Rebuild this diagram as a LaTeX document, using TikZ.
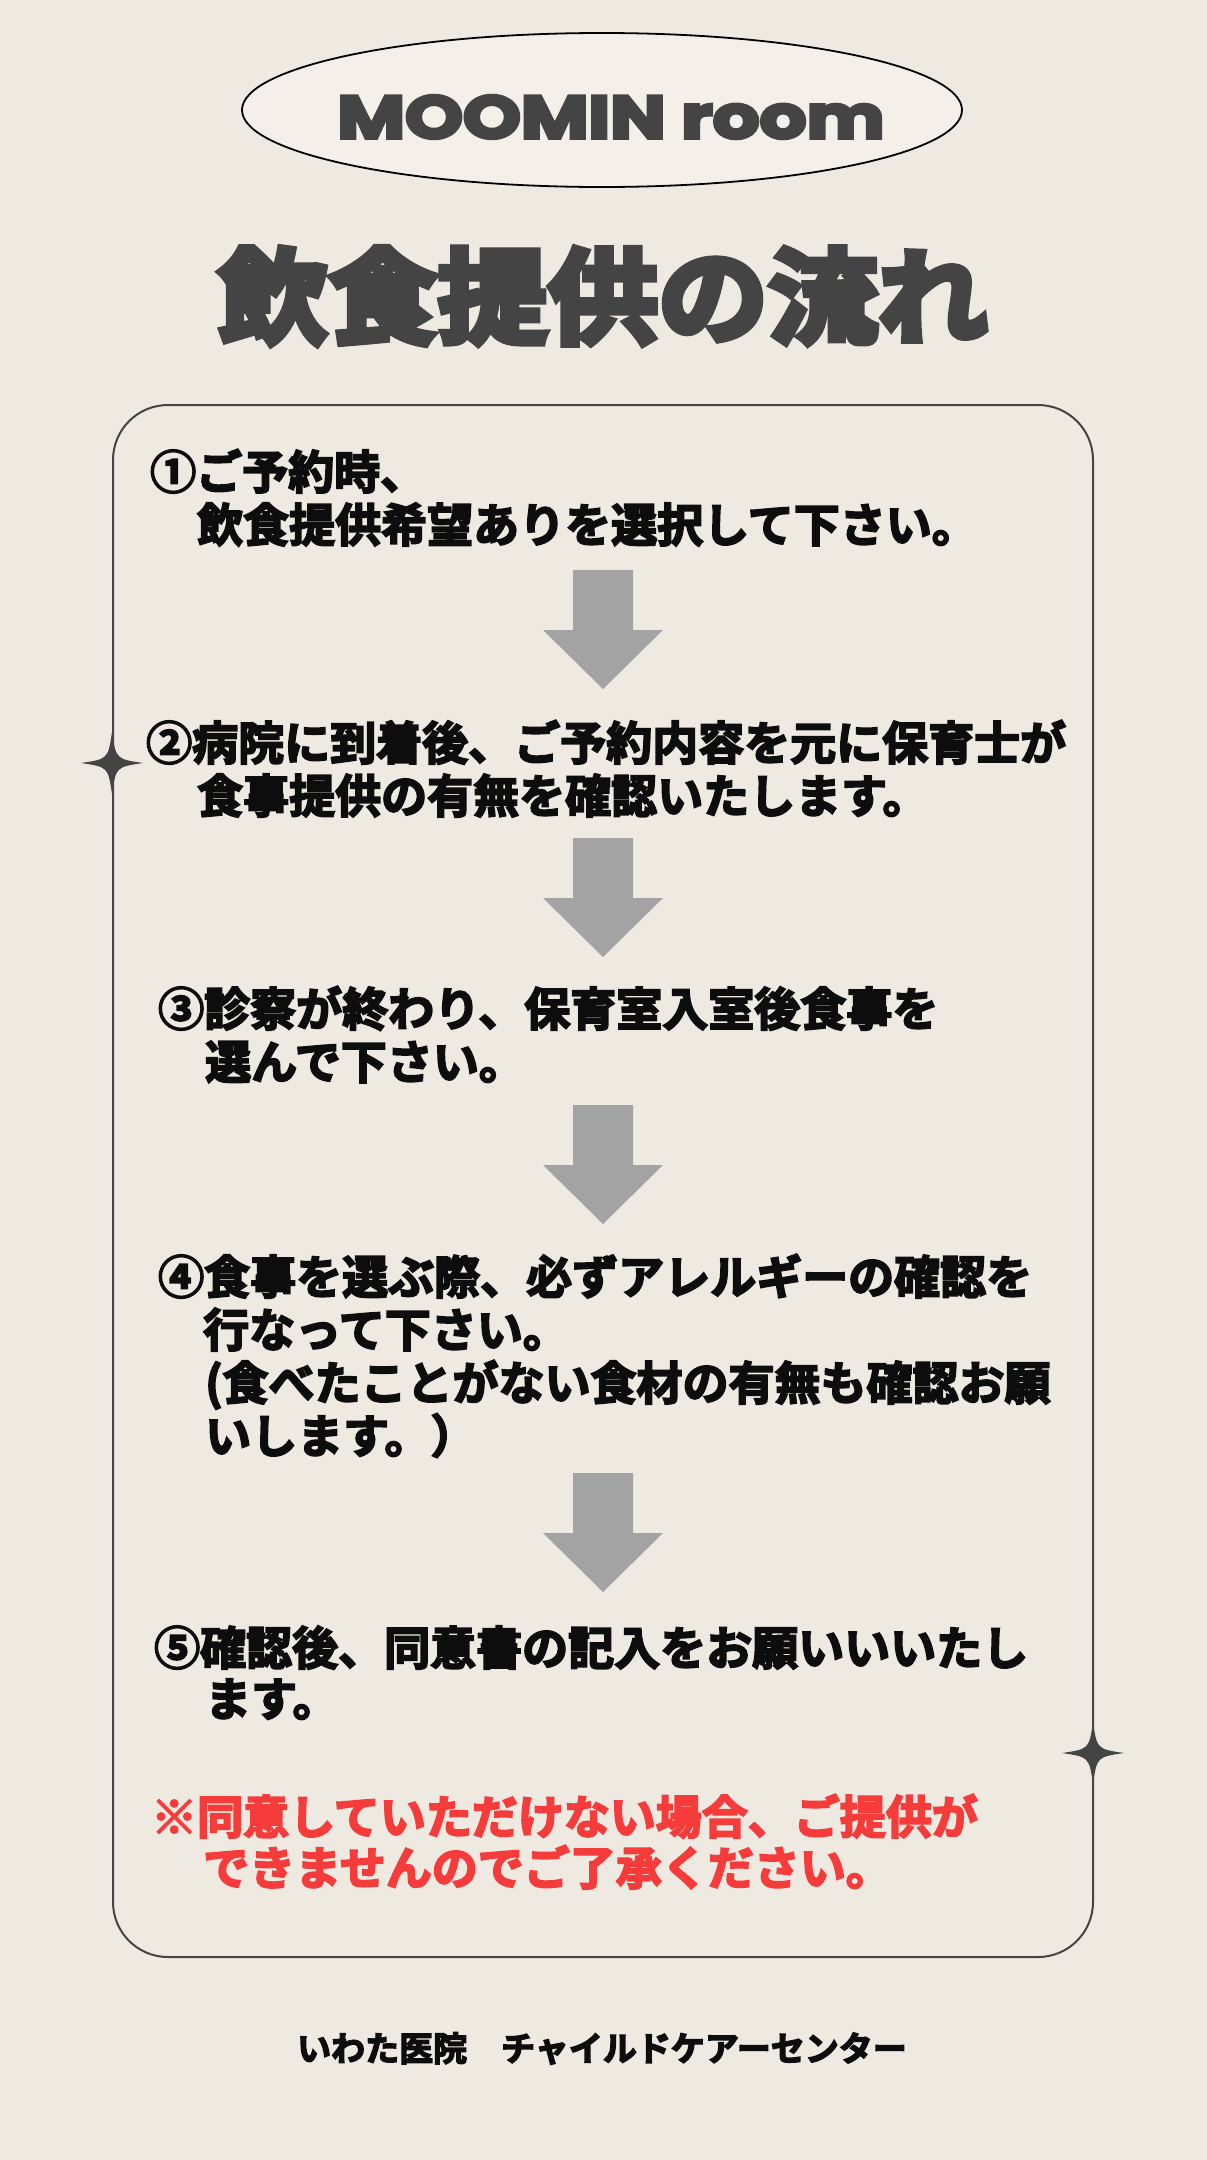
\documentclass[tikz,border=0pt]{standalone}
\usepackage{fontspec}
\usepackage{graphicx}
\usetikzlibrary{shapes.geometric}
\newfontfamily\jpbold{Noto Sans CJK JP}[UprightFont={* Bold}, FakeBold=4]
\newfontfamily\jptitle{Noto Sans CJK JP}[UprightFont={* Bold}, FakeBold=6]
\newfontfamily\latbold{Poppins}[UprightFont={* Bold}, FakeBold=5]
\definecolor{paper}{HTML}{EEEAE2}
\definecolor{pillfill}{HTML}{F4F0E9}
\definecolor{ink}{HTML}{444444}
\definecolor{arrowgray}{HTML}{A3A3A3}
\definecolor{warnred}{HTML}{F63B3B}
\definecolor{txt}{HTML}{0D0D0D}
\tikzset{
  steptext/.style={anchor=base west, inner sep=0pt, font=\jpbold\fontsize{46pt}{53pt}\selectfont, text=txt},
  warntext/.style={steptext, text=warnred},
  foottext/.style={anchor=base, inner sep=0pt, font=\jpbold\fontsize{34pt}{40pt}\selectfont, text=txt},
  sparkle/.pic={\fill[ink] (0,-31) .. controls (4,-4) .. (31,0) .. controls (4,4) .. (0,31) .. controls (-4,4) .. (-31,0) .. controls (-4,-4) .. cycle;},
  downarrow/.pic={\fill[arrowgray] (-30,0) -- (30,0) -- (30,60) -- (60,60) -- (0,119) -- (-60,60) -- (-30,60) -- cycle;}
}
\begin{document}
\begin{tikzpicture}[x=1pt, y=-1pt]
\useasboundingbox (0,0) rectangle (1207,2160);
\fill[paper] (0,0) rectangle (1207,2160);
% header pill
\node[ellipse, draw=black, line width=1.8pt, fill=pillfill, minimum width=720pt, minimum height=154pt, inner sep=0pt] (pill) at (602,110) {};
\node[inner sep=0pt, text=ink] (moomin) at (611,117) {\resizebox{547pt}{43pt}{\latbold MOOMIN room}};
% title
\node[inner sep=0pt, text=ink] (title) at (603,296) {\resizebox*{770pt}{98pt}{\jptitle 飲食提供の流れ}};
% frame
\draw[ink, line width=2pt, rounded corners=55pt] (113,405) rectangle (1093,1957);
\pic (spkl) at (112,763) {sparkle};
\pic (spkr) at (1093,1753) {sparkle};
% step 1
\node[steptext] (s1a) at (150,489) {①ご予約時、};
\node[steptext] (s1b) at (197,542) {飲食提供希望ありを選択して下さい。};
\pic (ar1) at (603,570) {downarrow};
% step 2
\node[steptext] (s2a) at (146,760) {②病院に到着後、ご予約内容を元に保育士が};
\node[steptext] (s2b) at (197,813) {食事提供の有無を確認いたします。};
\pic (ar2) at (603,838) {downarrow};
% step 3
\node[steptext] (s3a) at (158,1026) {③診察が終わり、保育室入室後食事を};
\node[steptext] (s3b) at (205,1079) {選んで下さい。};
\pic (ar3) at (603,1105) {downarrow};
% step 4
\node[steptext] (s4a) at (158,1294) {④食事を選ぶ際、必ずアレルギーの確認を};
\node[steptext] (s4b) at (203,1347) {行なって下さい。};
\node[steptext] (s4c) at (205,1400) {(食べたことがない食材の有無も確認お願};
\node[steptext] (s4d) at (205,1453) {いします。）};
\pic (ar4) at (603,1473) {downarrow};
% step 5
\node[steptext] (s5a) at (154,1665) {⑤確認後、同意書の記入をお願いいいたし};
\node[steptext] (s5b) at (205,1716) {ます。};
% note
\node[warntext] (w1) at (151,1834) {※同意していただけない場合、ご提供が};
\node[warntext] (w2) at (203,1885) {できませんのでご了承ください。};
% footer
\node[foottext] (foot) at (602,2061) {いわた医院　チャイルドケアーセンター};
\end{tikzpicture}
\end{document}
